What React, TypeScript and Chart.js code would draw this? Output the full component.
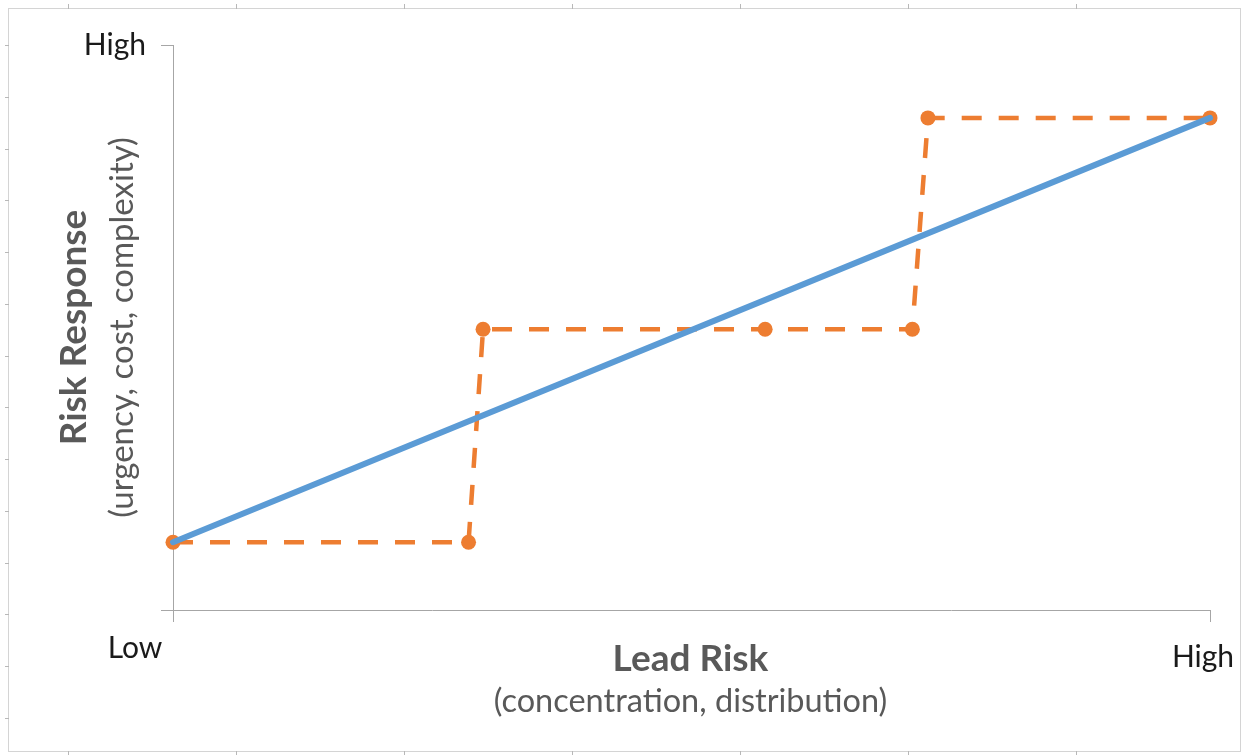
import { useEffect, useRef } from 'react';
import { Chart, registerables } from 'chart.js';

Chart.register(...registerables);

// ---- data ----
const leadRisk = [0, 2.85, 2.99, 5.71, 7.13, 7.28, 10];
const stepResponse = [1.2, 1.2, 4.97, 4.97, 4.97, 8.71, 8.71];
const trendLeadRisk = [0, 10];
const trendResponse = [1.2, 8.71];
const axisMin = 0;
const axisMax = 10;
const xTickLabels = ['Low', 'High'];
const yTickLabels = ['', 'High'];
const xTitle = 'Lead Risk';
const xSubtitle = '(concentration, distribution)';
const yTitle = 'Risk Response';
const ySubtitle = '(urgency, cost, complexity)';

const BLUE = '#5B9BD5';
const ORANGE = '#ED7D31';
const AXIS = '#a6a6a6';
const TITLE = '#595959';
const LABEL = '#1a1a1a';
const FONT = 'Lato, "Open Sans", sans-serif';

const decor = {
  id: 'decor',
  beforeDraw(chart: any) {
    const ctx = chart.ctx;
    ctx.save();
    ctx.fillStyle = '#ffffff';
    ctx.fillRect(0, 0, chart.width, chart.height);
    // sheet frame
    ctx.strokeStyle = '#d4d4d4';
    ctx.lineWidth = 1;
    ctx.strokeRect(8.5, 8.5, 1232, 743);
    ctx.strokeStyle = '#b8b8b8';
    ctx.beginPath();
    for (let i = 0; i < 7; i++) {
      const x = Math.round(68 + i * 168) + 0.5;
      ctx.moveTo(x, 4);
      ctx.lineTo(x, 9);
      ctx.moveTo(x, 751);
      ctx.lineTo(x, 755);
    }
    for (let i = 0; i < 14; i++) {
      const y = Math.round(45 + i * 51.77) + 0.5;
      ctx.moveTo(5, y);
      ctx.lineTo(9, y);
    }
    ctx.stroke();
    ctx.restore();
  },
  afterDraw(chart: any) {
    const ctx = chart.ctx;
    const area = chart.chartArea;
    const xs = chart.scales.x;
    const cx = (area.left + area.right) / 2 - 1;
    const cy = (area.top + area.bottom) / 2;
    ctx.save();
    ctx.textAlign = 'center';
    ctx.textBaseline = 'alphabetic';
    // x tick labels
    ctx.fillStyle = LABEL;
    ctx.font = `30px ${FONT}`;
    ctx.fillText(xTickLabels[0], xs.getPixelForValue(axisMin) - 38, area.bottom + 48);
    ctx.fillText(xTickLabels[1], xs.getPixelForValue(axisMax) - 7, area.bottom + 57);
    // x title
    ctx.fillStyle = TITLE;
    ctx.font = `bold 37px ${FONT}`;
    ctx.fillText(xTitle, cx, area.bottom + 61);
    ctx.font = `32.5px ${FONT}`;
    ctx.fillText(xSubtitle, cx, area.bottom + 102);
    // y title
    ctx.save();
    ctx.translate(area.left - 87, cy);
    ctx.rotate(-Math.PI / 2);
    ctx.font = `bold 37px ${FONT}`;
    ctx.fillText(yTitle, 0, 0);
    ctx.restore();
    ctx.save();
    ctx.translate(area.left - 40, cy);
    ctx.rotate(-Math.PI / 2);
    ctx.font = `33px ${FONT}`;
    ctx.fillText(ySubtitle, 0, 0);
    ctx.restore();
    ctx.restore();
  },
};

export default function App() {
  const ref = useRef<HTMLCanvasElement>(null);
  useEffect(() => {
    if (!ref.current) return;
    const chart = new Chart(ref.current, {
      type: 'line',
      data: {
        datasets: [
          {
            label: 'Trend',
            data: trendLeadRisk.map((x, i) => ({ x, y: trendResponse[i] })),
            borderColor: BLUE,
            backgroundColor: BLUE,
            borderWidth: 6,
            pointRadius: 0,
            borderCapStyle: 'round',
            clip: false,
          },
          {
            label: 'Step',
            data: leadRisk.map((x, i) => ({ x, y: stepResponse[i] })),
            borderColor: ORANGE,
            backgroundColor: ORANGE,
            borderWidth: 4.5,
            borderDash: [20, 17],
            pointRadius: 7.5,
            pointBorderWidth: 0,
            pointBackgroundColor: ORANGE,
            clip: false,
          },
        ],
      } as any,
      options: {
        animation: false,
        responsive: false,
        layout: { padding: { top: 45, right: 33, left: 0, bottom: 0 } },
        plugins: { legend: { display: false }, tooltip: { enabled: false } },
        scales: {
          x: {
            type: 'linear',
            min: axisMin,
            max: axisMax,
            afterBuildTicks: (s: any) => {
              s.ticks = [{ value: axisMin }, { value: axisMax }];
            },
            afterFit: (s: any) => {
              s.height = 146;
            },
            grid: { drawOnChartArea: false, drawTicks: true, tickLength: 12, color: AXIS },
            border: { display: true, color: AXIS, width: 1 },
            ticks: { display: false },
          },
          y: {
            type: 'linear',
            min: axisMin,
            max: axisMax,
            afterBuildTicks: (s: any) => {
              s.ticks = [{ value: axisMin }, { value: axisMax }];
            },
            afterFit: (s: any) => {
              s.width = 173;
            },
            grid: { drawOnChartArea: false, drawTicks: true, tickLength: 12, color: AXIS },
            border: { display: true, color: AXIS, width: 1 },
            ticks: {
              display: true,
              padding: 15,
              color: LABEL,
              font: { family: FONT, size: 30 },
              callback: (v: any) => (v === axisMax ? yTickLabels[1] : yTickLabels[0]),
            },
          },
        },
      } as any,
      plugins: [decor],
    });
    return () => chart.destroy();
  }, []);
  return (
    <canvas
      ref={ref}
      width={1243}
      height={756}
      style={{ position: 'fixed', left: 0, top: 0, display: 'block', width: 1243, height: 756 }}
    />
  );
}
